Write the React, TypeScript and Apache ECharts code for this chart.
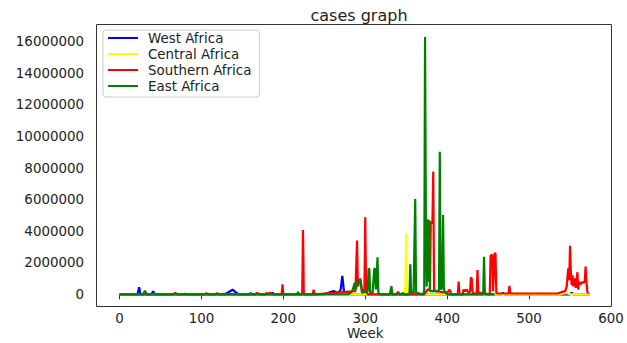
import React, { useEffect, useRef } from "react";
import * as echarts from "echarts";

const seriesNames = ["West Africa", "Central Africa", "Southern Africa", "East Africa"];
const seriesColors = ["#0000ff", "#ffff00", "#ff0000", "#008000"];

const xTickStep = 100;
const xTickMax = 600;
const yTickStep = 2000000;
const yTickMax = 16000000;

const westWeeks = [0, 22, 23, 24, 25, 26, 39, 41, 43, 128, 132, 136, 138, 140, 144, 146, 158, 160, 162, 186, 187, 188, 250, 256, 262, 266, 268, 270, 272, 274, 278, 282, 466, 468, 470, 550, 552, 554, 574];
const westCases = [0, 0, 200000, 450000, 100000, 0, 0, 200000, 0, 0, 100000, 220000, 300000, 200000, 50000, 0, 0, 80000, 0, 0, 120000, 0, 0, 120000, 200000, 80000, 150000, 300000, 1160000, 200000, 100000, 0, 0, 100000, 0, 0, 100000, 0, 0];

const centralWeeks = [0, 348, 349, 350, 351, 352, 538, 542, 546, 550, 574];
const centralCases = [0, 0, 500000, 3850000, 400000, 0, 0, 50000, 80000, 0, 0];

const southernWeeks = [0, 66, 68, 70, 104, 106, 108, 117, 119, 121, 166, 168, 170, 178, 180, 182, 184, 186, 198, 199, 200, 223, 224, 225, 236, 237, 238, 288, 290, 291, 294, 296, 299, 300, 301, 303, 338, 340, 342, 372, 376, 379, 380, 382, 383, 384, 386, 400, 403, 405, 413, 414, 415, 419, 420, 422, 424, 426, 428, 429, 430, 431, 436, 437, 438, 440, 452, 453, 455, 456, 458, 459, 460, 462, 475, 476, 477, 535, 540, 544, 546, 547, 548, 549, 550, 551, 552, 553, 554, 555, 556, 557, 558, 559, 560, 561, 562, 563, 564, 565, 566, 567, 568, 569, 570, 571, 572];
const southernCases = [0, 0, 100000, 0, 0, 80000, 0, 0, 80000, 0, 0, 100000, 0, 0, 100000, 0, 120000, 0, 0, 630000, 0, 0, 4070000, 0, 0, 300000, 0, 200000, 3400000, 500000, 1000000, 300000, 200000, 4880000, 300000, 0, 0, 150000, 0, 0, 300000, 300000, 4600000, 4500000, 7770000, 300000, 200000, 100000, 300000, 0, 0, 800000, 0, 0, 300000, 200000, 300000, 100000, 200000, 1080000, 1000000, 100000, 0, 1540000, 100000, 100000, 0, 2450000, 2500000, 200000, 2600000, 2600000, 100000, 50000, 50000, 530000, 50000, 50000, 150000, 200000, 500000, 1200000, 1650000, 900000, 3080000, 1400000, 600000, 1200000, 500000, 900000, 1000000, 400000, 900000, 1400000, 300000, 700000, 800000, 600000, 800000, 700000, 800000, 700000, 900000, 1750000, 800000, 200000, 50000];

const eastWeeks = [0, 29, 31, 33, 79, 80, 81, 217, 218, 219, 280, 284, 286, 287, 288, 292, 294, 296, 303, 304, 305, 306, 309, 311, 312, 313, 315, 316, 318, 330, 332, 333, 344, 346, 347, 354, 355, 356, 359, 361, 362, 371, 372, 373, 374, 375, 376, 377, 378, 379, 389, 390, 391, 392, 394, 395, 396, 398, 400, 444, 445, 446, 447, 458];
const eastCases = [0, 0, 230000, 0, 0, 60000, 0, 0, 150000, 0, 0, 200000, 500000, 730000, 300000, 900000, 900000, 100000, 200000, 1620000, 1600000, 100000, 100000, 1600000, 1650000, 300000, 2340000, 100000, 0, 0, 520000, 0, 0, 100000, 0, 0, 1900000, 100000, 100000, 6030000, 100000, 0, 300000, 16300000, 4700000, 500000, 4750000, 800000, 4700000, 200000, 200000, 300000, 9030000, 300000, 400000, 5020000, 300000, 100000, 0, 0, 2380000, 100000, 0, 0];

const allWeeks = [westWeeks, centralWeeks, southernWeeks, eastWeeks];
const allCases = [westCases, centralCases, southernCases, eastCases];

const FONT = "DejaVu Sans";

export default function App() {
  const ref = useRef<HTMLDivElement>(null);
  useEffect(() => {
    if (!ref.current) return;
    const chart = echarts.init(ref.current, undefined, { renderer: "svg" });
    const series = seriesNames.map((name, i) => ({
      name,
      type: "line",
      data: allWeeks[i].map((w, j) => [w, allCases[i][j]]),
      showSymbol: false,
      symbol: "none",
      clip: false,
      color: seriesColors[i],
      lineStyle: { width: 2.2, color: seriesColors[i] },
      z: 2 + i,
    }));
    chart.setOption({
      animation: false,
      backgroundColor: "#ffffff",
      title: {
        text: "cases graph",
        left: 354,
        textAlign: "center",
        top: 2,
        textStyle: { fontFamily: FONT, fontSize: 16, fontWeight: "normal", color: "#222" },
      },
      legend: {
        orient: "vertical",
        left: 103,
        top: 30,
        icon: "rect",
        itemWidth: 30,
        itemHeight: 2,
        itemGap: 0,
        padding: [0, 8, 3, 5],
        backgroundColor: "#ffffff",
        borderColor: "#cccccc",
        borderWidth: 1,
        borderRadius: 3,
        z: 20,
        textStyle: { fontFamily: FONT, fontSize: 13.4, lineHeight: 16, color: "#222", padding: [0, 0, 0, 5] },
        data: seriesNames,
      },
      graphic: [
        {
          type: "rect",
          z: 10,
          silent: true,
          shape: { x: 96.5, y: 24.5, width: 515, height: 282 },
          style: { fill: "none", stroke: "#333", lineWidth: 1 },
        },
      ],
      grid: {
        left: 119.5,
        right: 16,
        top: 41.7,
        bottom: 48.7,
        outerBoundsMode: "none",
        containLabel: false,
        show: false,
      },
      xAxis: {
        type: "value",
        min: 0,
        max: xTickMax,
        interval: xTickStep,
        offset: 12.7,
        name: "Week",
        nameLocation: "middle",
        nameGap: 20,
        nameMoveOverlap: false,
        nameTextStyle: { fontFamily: FONT, fontSize: 13.4, color: "#222" },
        axisLine: { show: false },
        splitLine: { show: false },
        axisTick: { show: true, length: 5, lineStyle: { color: "#333" } },
        axisLabel: {
          fontFamily: FONT,
          fontSize: 13.4,
          color: "#222",
          margin: 5,
          formatter: (v: number) => String(v),
        },
      },
      yAxis: {
        type: "value",
        min: 0,
        max: yTickMax,
        interval: yTickStep,
        offset: 23.5,
        axisLine: { show: false },
        splitLine: { show: false },
        axisTick: { show: false },
        axisLabel: {
          fontFamily: FONT,
          fontSize: 13.4,
          color: "#222",
          margin: 12,
          formatter: (v: number) => String(v),
        },
      },
      series,
    });
    return () => chart.dispose();
  }, []);
  return <div ref={ref} style={{ position: "fixed", left: 0, top: 0, width: 627, height: 343 }} />;
}
